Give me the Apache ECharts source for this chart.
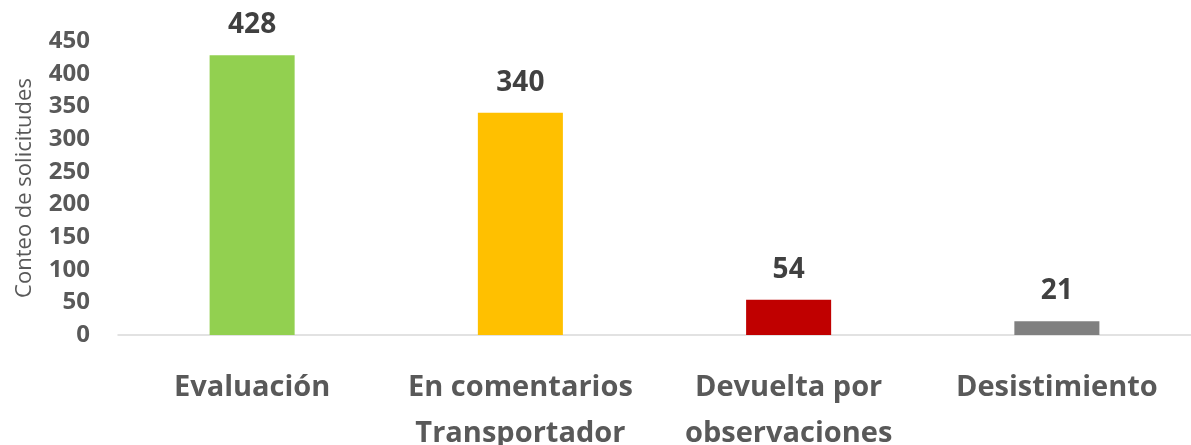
<!DOCTYPE html>
<html>
<head>
<meta charset="utf-8">
<script src="https://cdn.jsdelivr.net/npm/echarts@6/dist/echarts.min.js"></script>
<style>
html,body{margin:0;padding:0;background:#fff;}
#chart{width:1191px;height:445px;}
</style>
</head>
<body>
<div id="chart"></div>
<script>
var categories = ['Evaluación', 'En comentarios\nTransportador', 'Devuelta por\nobservaciones', 'Desistimiento'];
var values = [428, 340, 54, 21];
var barColors = ['#92D050', '#FFC000', '#C00000', '#808080'];
var yTicks = {min: 0, max: 450, interval: 50};

var chart = echarts.init(document.getElementById('chart'));
var font = '"Open Sans", Lato, sans-serif';

var seriesData = values.map(function(v, i){
	return {value: v, itemStyle: {color: barColors[i]}};
});

chart.setOption({
	animation: false,
	textStyle: {fontFamily: font},
	grid: {left: 118, right: 0, top: 41, bottom: 110, outerBoundsMode: 'none', containLabel: false},
	xAxis: {
		type: 'category',
		data: categories,
		axisLine: {lineStyle: {color: '#D9D9D9', width: 1.5}},
		axisTick: {show: false},
		axisLabel: {
			interval: 0,
			margin: 30,
			fontSize: 29,
			fontWeight: 'bold',
			color: '#595959',
			lineHeight: 46,
			fontFamily: font
		}
	},
	yAxis: {
		type: 'value',
		min: yTicks.min,
		max: yTicks.max,
		interval: yTicks.interval,
		name: 'Conteo de solicitudes',
		nameLocation: 'middle',
		nameGap: 82,
		nameTextStyle: {fontSize: 22, color: '#595959', fontFamily: font},
		splitLine: {show: false},
		axisLine: {show: false},
		axisTick: {show: false},
		axisLabel: {
			margin: 28,
			fontSize: 24,
			fontWeight: 'bold',
			color: '#595959',
			fontFamily: font
		}
	},
	series: [{
		type: 'bar',
		data: seriesData,
		barWidth: '31.7%',
		label: {
			show: true,
			position: 'top',
			distance: 16,
			fontSize: 28,
			fontWeight: 'bold',
			color: '#404040',
			fontFamily: font
		}
	}]
});
</script>
</body>
</html>
